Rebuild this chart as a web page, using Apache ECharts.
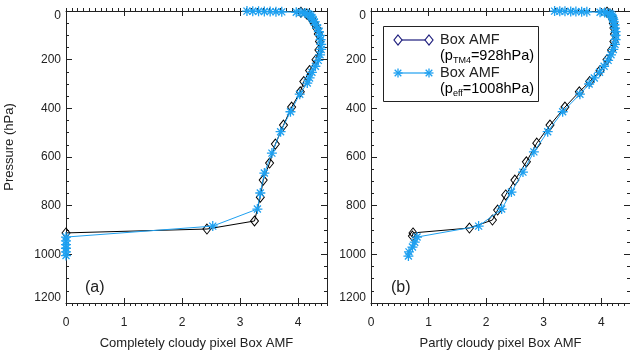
<!DOCTYPE html>
<html>
<head>
<meta charset="utf-8">
<script src="https://cdn.jsdelivr.net/npm/echarts@6/dist/echarts.min.js"></script>
<style>
html, body { margin: 0; background: #fff; }
#chart { width: 630px; height: 351px; }
</style>
</head>
<body>
<div id="chart"></div>
<script>
// panel (a) completely cloudy pixel, TM4 cloud pressure 928 hPa (diamonds)
const presTm4A = [5, 12, 22, 35, 50, 70, 95, 125, 160, 200, 245, 290, 332, 395, 469, 547, 625, 695, 765, 863, 896, 912];
const amfTm4A  = [4.05, 4.15, 4.2, 4.24, 4.28, 4.32, 4.35, 4.37, 4.36, 4.31, 4.2, 4.1, 4.04, 3.89, 3.75, 3.61, 3.51, 3.40, 3.35, 3.25, 2.43, 0.0];
// panel (a) effective cloud pressure 1008 hPa (stars)
const presEffA = [0.5, 1, 1.5, 2, 2.5, 3, 3.5, 5, 6, 8, 11, 15, 20, 27, 35, 45, 57, 70, 85, 100, 118, 137, 158, 180, 203, 227, 252, 275, 296, 342, 414, 496, 584, 666, 748, 814, 884, 929, 945, 960, 975, 990, 1005];
const amfEffA  = [3.12, 3.22, 3.32, 3.42, 3.52, 3.62, 3.72, 3.97, 4.05, 4.12, 4.17, 4.2, 4.22, 4.24, 4.26, 4.28, 4.31, 4.34, 4.36, 4.38, 4.39, 4.40, 4.40, 4.38, 4.35, 4.3, 4.24, 4.2, 4.16, 4.03, 3.87, 3.70, 3.55, 3.42, 3.35, 3.30, 2.53, 0, 0, 0, 0, 0, 0];

// panel (b) partly cloudy pixel
const presTm4B = [5, 12, 22, 35, 50, 70, 95, 125, 160, 200, 245, 290, 332, 395, 469, 543, 620, 695, 756, 818, 859, 892, 912, 925];
const amfTm4B  = [4.1, 4.15, 4.18, 4.2, 4.21, 4.22, 4.23, 4.22, 4.18, 4.1, 3.98, 3.8, 3.62, 3.37, 3.11, 2.88, 2.70, 2.50, 2.34, 2.20, 2.11, 1.71, 0.73, 0.72];
const presEffB = [0.5, 1, 1.5, 2, 2.5, 3, 3.5, 5, 6, 8, 11, 15, 20, 27, 35, 45, 57, 70, 85, 100, 118, 137, 158, 180, 203, 227, 252, 275, 300, 342, 414, 496, 579, 662, 744, 814, 884, 929, 950, 970, 990, 1007];
const amfEffB  = [3.19, 3.28, 3.37, 3.47, 3.56, 3.66, 3.75, 3.98, 4.06, 4.11, 4.15, 4.17, 4.19, 4.2, 4.21, 4.22, 4.23, 4.24, 4.25, 4.25, 4.25, 4.24, 4.21, 4.17, 4.12, 4.05, 3.97, 3.88, 3.79, 3.63, 3.33, 3.07, 2.83, 2.64, 2.44, 2.27, 1.87, 0.80, 0.76, 0.72, 0.66, 0.65];

const xTitles = ['Completely cloudy pixel Box AMF', 'Partly cloudy pixel Box AMF'];
const panelTags = ['(a)', '(b)'];

const FONT = 'Liberation Sans, Arial, Helvetica, sans-serif';
const INK = '#222';
const BLUE = '#1ea0f0';
const NAVY = '#1c1c7c';
const STAR = 'path://M0,5L10,5M5,0L5,10M1.5,1.5L8.5,8.5M1.5,8.5L8.5,1.5';

const pairs = (xs, ps) => xs.map((v, i) => [v, ps[i]]);

const grids = [
  { left: 66, top: 11, width: 261, height: 292, outerBoundsMode: 'none' },
  { left: 371, top: 11, width: 259, height: 292, outerBoundsMode: 'none' }
];

function xAxesFor(gi) {
  const base = {
    gridIndex: gi, type: 'value', min: 0, max: 4.5,
    splitLine: { show: false },
    axisLine: { show: false, onZero: false, lineStyle: { color: INK, width: 1 } },
    axisLabel: { show: false }
  };
  // minor x ticks every 0.1 (these axes draw inward with inside:false here)
  const minor = {
    interval: 0.1,
    axisTick: { show: true, inside: false, length: 3, lineStyle: { color: INK } }
  };
  return [
    Object.assign({}, base, {
      position: 'bottom', interval: 1,
      axisLine: { show: true, onZero: false, lineStyle: { color: INK, width: 1 } },
      axisTick: { inside: true, length: 5, lineStyle: { color: INK } },
      axisLabel: { show: true, margin: 14, showMaxLabel: false, color: INK, fontSize: 12, fontFamily: FONT },
      name: xTitles[gi], nameLocation: 'middle', nameGap: 34,
      nameTextStyle: { color: INK, fontSize: 13, fontFamily: FONT }
    }),
    Object.assign({}, base, {
      position: 'top', interval: 1,
      axisLine: { show: true, onZero: false, lineStyle: { color: INK, width: 1 } },
      axisTick: { inside: true, length: 5, lineStyle: { color: INK } }
    }),
    Object.assign({}, base, minor, { position: 'bottom' }),
    Object.assign({}, base, minor, { position: 'top' })
  ];
}

function yAxesFor(gi) {
  const base = {
    gridIndex: gi, type: 'value', min: 0, max: 1200, inverse: true,
    splitLine: { show: false },
    axisLine: { show: false, onZero: false, lineStyle: { color: INK, width: 1 } },
    axisLabel: { show: false }
  };
  const left = Object.assign({}, base, {
    position: 'left', interval: 200,
    axisLine: { show: true, onZero: false, lineStyle: { color: INK, width: 1 } },
    axisTick: { inside: true, length: 6, lineStyle: { color: INK } },
    axisLabel: {
      show: true, margin: 5, color: INK, fontSize: 12, fontFamily: FONT,
      formatter: v => v === 0 ? '{t|0}' : v === 1200 ? '{b|1200}' : String(v),
      rich: {
        t: { padding: [10, 0, 0, 0], fontSize: 12, fontFamily: FONT, color: INK },
        b: { padding: [0, 0, 10, 0], fontSize: 12, fontFamily: FONT, color: INK }
      }
    }
  });
  if (gi === 0) {
    left.name = 'Pressure (hPa)';
    left.nameLocation = 'middle';
    left.nameGap = 50;
    left.nameTextStyle = { color: INK, fontSize: 13, fontFamily: FONT, padding: [0, 0, 0, 20] };
  }
  return [
    left,
    Object.assign({}, base, {
      position: 'right', interval: 200,
      axisLine: { show: true, onZero: false, lineStyle: { color: INK, width: 1 } },
      axisTick: { inside: true, length: 6, lineStyle: { color: INK } }
    }),
    Object.assign({}, base, {
      position: 'left', interval: 50,
      axisTick: { inside: true, length: 3, lineStyle: { color: INK } }
    }),
    Object.assign({}, base, {
      position: 'right', interval: 50,
      axisTick: { inside: true, length: 3, lineStyle: { color: INK } }
    })
  ];
}

function tm4Series(gi, xs, ps) {
  return {
    name: 'Box AMF (pTM4=928hPa)', type: 'line', xAxisIndex: gi * 4, yAxisIndex: gi * 4,
    data: pairs(xs, ps), symbol: 'diamond', symbolSize: [8, 10], showAllSymbol: true,
    lineStyle: { color: '#000', width: 1 },
    itemStyle: { color: 'rgba(255,255,255,0)', borderColor: '#000', borderWidth: 1 },
    emphasis: { disabled: true }, z: 2
  };
}

function effSeries(gi, xs, ps) {
  return {
    name: 'Box AMF (peff=1008hPa)', type: 'line', xAxisIndex: gi * 4, yAxisIndex: gi * 4,
    data: pairs(xs, ps), symbol: STAR, symbolSize: 10, showAllSymbol: true,
    lineStyle: { color: BLUE, width: 1 },
    itemStyle: { color: BLUE, borderColor: BLUE, borderWidth: 1.3 },
    emphasis: { disabled: true }, z: 3
  };
}

// legend box drawn with graphic elements (IDL style, symbols at both ends)
function diamondEl(cx, cy) {
  return { type: 'polygon', shape: { points: [[cx, cy - 5], [cx + 4, cy], [cx, cy + 5], [cx - 4, cy]] },
           style: { fill: '#fff', stroke: NAVY, lineWidth: 1.2 } };
}
function starEls(cx, cy) {
  const r = 4.5, d = 3.3;
  const segs = [[-r, 0, r, 0], [0, -r, 0, r], [-d, -d, d, d], [-d, d, d, -d]];
  return segs.map(s => ({ type: 'line', shape: { x1: cx + s[0], y1: cy + s[1], x2: cx + s[2], y2: cy + s[3] },
                          style: { stroke: BLUE, lineWidth: 1.3 } }));
}
const legText = { fontSize: 14.5, fontFamily: FONT, fill: INK };
const richLeg = {
  n: { fontSize: 14.5, fontFamily: FONT, color: INK, lineHeight: 18 },
  s: { fontSize: 9, fontFamily: FONT, color: INK, lineHeight: 9, verticalAlign: 'bottom' }
};
const legend = {
  type: 'group', x: 383, y: 26, z: 10,
  children: [
    { type: 'rect', shape: { x: 0.5, y: 0.5, width: 155, height: 75 }, style: { fill: '#fff', stroke: INK, lineWidth: 1 } },
    { type: 'line', shape: { x1: 15, y1: 14, x2: 46, y2: 14 }, style: { stroke: NAVY, lineWidth: 1.2 } },
    diamondEl(15, 14), diamondEl(46, 14),
    { type: 'text', x: 57, y: 14, style: Object.assign({ text: 'Box AMF', verticalAlign: 'middle' }, legText) },
    { type: 'text', x: 57, y: 30, style: { text: '{n|(p}{s|TM4}{n|=928hPa)}', rich: richLeg, verticalAlign: 'middle' } },
    { type: 'line', shape: { x1: 15, y1: 47, x2: 46, y2: 47 }, style: { stroke: BLUE, lineWidth: 1.2 } }
  ].concat(starEls(15, 47), starEls(46, 47), [
    { type: 'text', x: 57, y: 47, style: Object.assign({ text: 'Box AMF', verticalAlign: 'middle' }, legText) },
    { type: 'text', x: 57, y: 63, style: { text: '{n|(p}{s|eff}{n|=1008hPa)}', rich: richLeg, verticalAlign: 'middle' } }
  ])
};

const option = {
  backgroundColor: '#fff',
  animation: false,
  grid: grids,
  xAxis: xAxesFor(0).concat(xAxesFor(1)),
  yAxis: yAxesFor(0).concat(yAxesFor(1)),
  title: [
    { text: panelTags[0], left: 80, top: 275, textStyle: { fontSize: 16, fontWeight: 'normal', color: INK, fontFamily: FONT } },
    { text: panelTags[1], left: 386, top: 275, textStyle: { fontSize: 16, fontWeight: 'normal', color: INK, fontFamily: FONT } }
  ],
  series: [
    tm4Series(0, amfTm4A, presTm4A),
    effSeries(0, amfEffA, presEffA),
    tm4Series(1, amfTm4B, presTm4B),
    effSeries(1, amfEffB, presEffB)
  ],
  graphic: [legend]
};

const chart = echarts.init(document.getElementById('chart'), null, { renderer: 'canvas' });
chart.setOption(option);
</script>
</body>
</html>
